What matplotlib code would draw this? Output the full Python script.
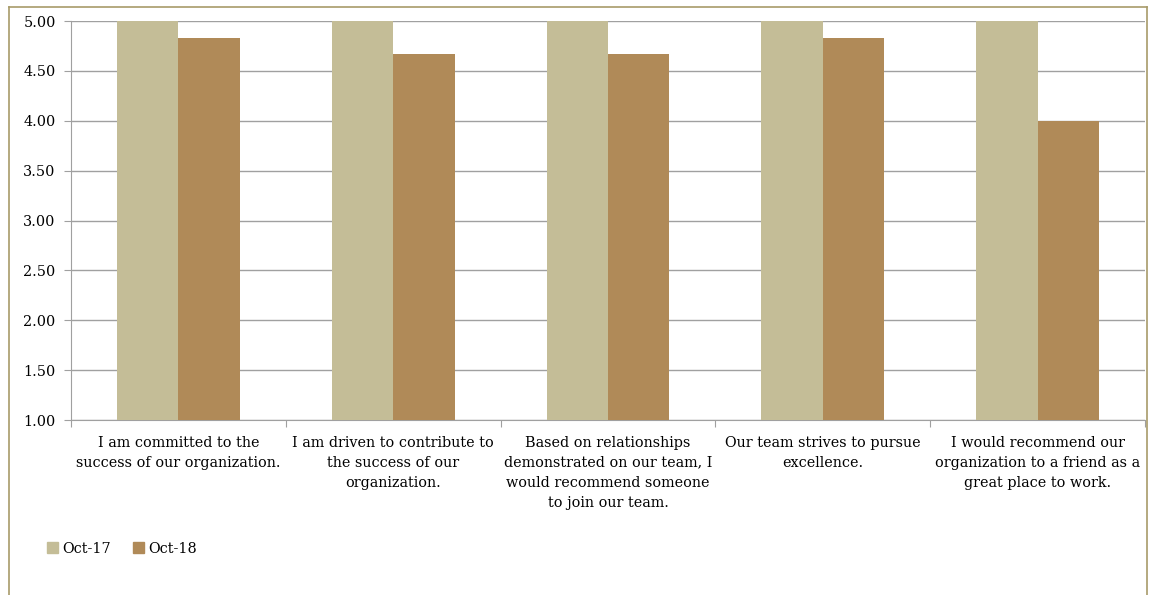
import numpy as np
import matplotlib
matplotlib.use("Agg")
import matplotlib.pyplot as plt
from matplotlib.patches import Rectangle
from matplotlib.lines import Line2D

# Data
categories = [
    "I am committed to the\nsuccess of our organization.",
    "I am driven to contribute to\nthe success of our\norganization.",
    "Based on relationships\ndemonstrated on our team, I\nwould recommend someone\nto join our team.",
    "Our team strives to pursue\nexcellence.",
    "I would recommend our\norganization to a friend as a\ngreat place to work.",
]
series_names = ["Oct-17", "Oct-18"]
oct17 = [5.00, 5.00, 5.00, 5.00, 5.00]
oct18 = [4.83, 4.67, 4.67, 4.83, 4.00]
y_ticks = [1.0, 1.5, 2.0, 2.5, 3.0, 3.5, 4.0, 4.5, 5.0]

C17 = "#C4BD97"; C18 = "#B08A58"
FRAME = "#A89B6A"; GRID = "#A0A0A0"
FS = 10.4

plt.rcParams["font.family"] = ["DejaVu Serif"]

fig = plt.figure(figsize=(11.49, 5.95), dpi=100)
ax = fig.add_axes([0.0618, 0.294, 0.9347, 0.6706])

x = np.arange(len(categories))
w = 0.286
ax.bar(x - w / 2, np.array(oct17) - 1, w, bottom=1, color=C17, zorder=3, label=series_names[0])
ax.bar(x + w / 2, np.array(oct18) - 1, w, bottom=1, color=C18, zorder=3, label=series_names[1])

ax.set_xlim(-0.5, len(categories) - 0.5)
ax.set_ylim(1, 5)
ax.set_yticks(y_ticks)
ax.set_yticklabels([f"{v:.2f}" for v in y_ticks], fontsize=FS)
ax.yaxis.grid(True, color=GRID, linewidth=1, zorder=0)

# category boundary ticks on the x axis
ax.set_xticks(np.arange(-0.5, len(categories) + 0.5, 1.0))
ax.set_xticklabels([])
ax.tick_params(axis="x", length=5, color=GRID, direction="out")
ax.tick_params(axis="y", length=5, color=GRID, direction="out", pad=6)
for xi, lab in zip(x, categories):
    ax.text(xi, -0.039, lab, transform=ax.get_xaxis_transform(), ha="center", va="top",
            fontsize=FS, linespacing=1.56)

for s in ["top", "right"]:
    ax.spines[s].set_visible(False)
for s in ["left", "bottom"]:
    ax.spines[s].set_color(GRID)

# legend
handles = [Rectangle((0, 0), 1, 1, color=C17), Rectangle((0, 0), 1, 1, color=C18)]
fig.legend(handles, series_names, loc="center left", bbox_to_anchor=(0.03, 0.078),
           ncol=2, frameon=False, fontsize=FS, handlelength=0.75, handleheight=0.75,
           handletextpad=0.3, columnspacing=1.5)

# outer chart frame
fig.add_artist(Line2D([9 / 1149, 9 / 1149], [0, 1 - 7 / 595], color=FRAME, lw=1.2, transform=fig.transFigure))
fig.add_artist(Line2D([9 / 1149, 1147 / 1149], [1 - 7 / 595, 1 - 7 / 595], color=FRAME, lw=1.2, transform=fig.transFigure))
fig.add_artist(Line2D([1147 / 1149, 1147 / 1149], [0, 1 - 7 / 595], color=FRAME, lw=1.2, transform=fig.transFigure))

fig.savefig("out.png", dpi=100)
